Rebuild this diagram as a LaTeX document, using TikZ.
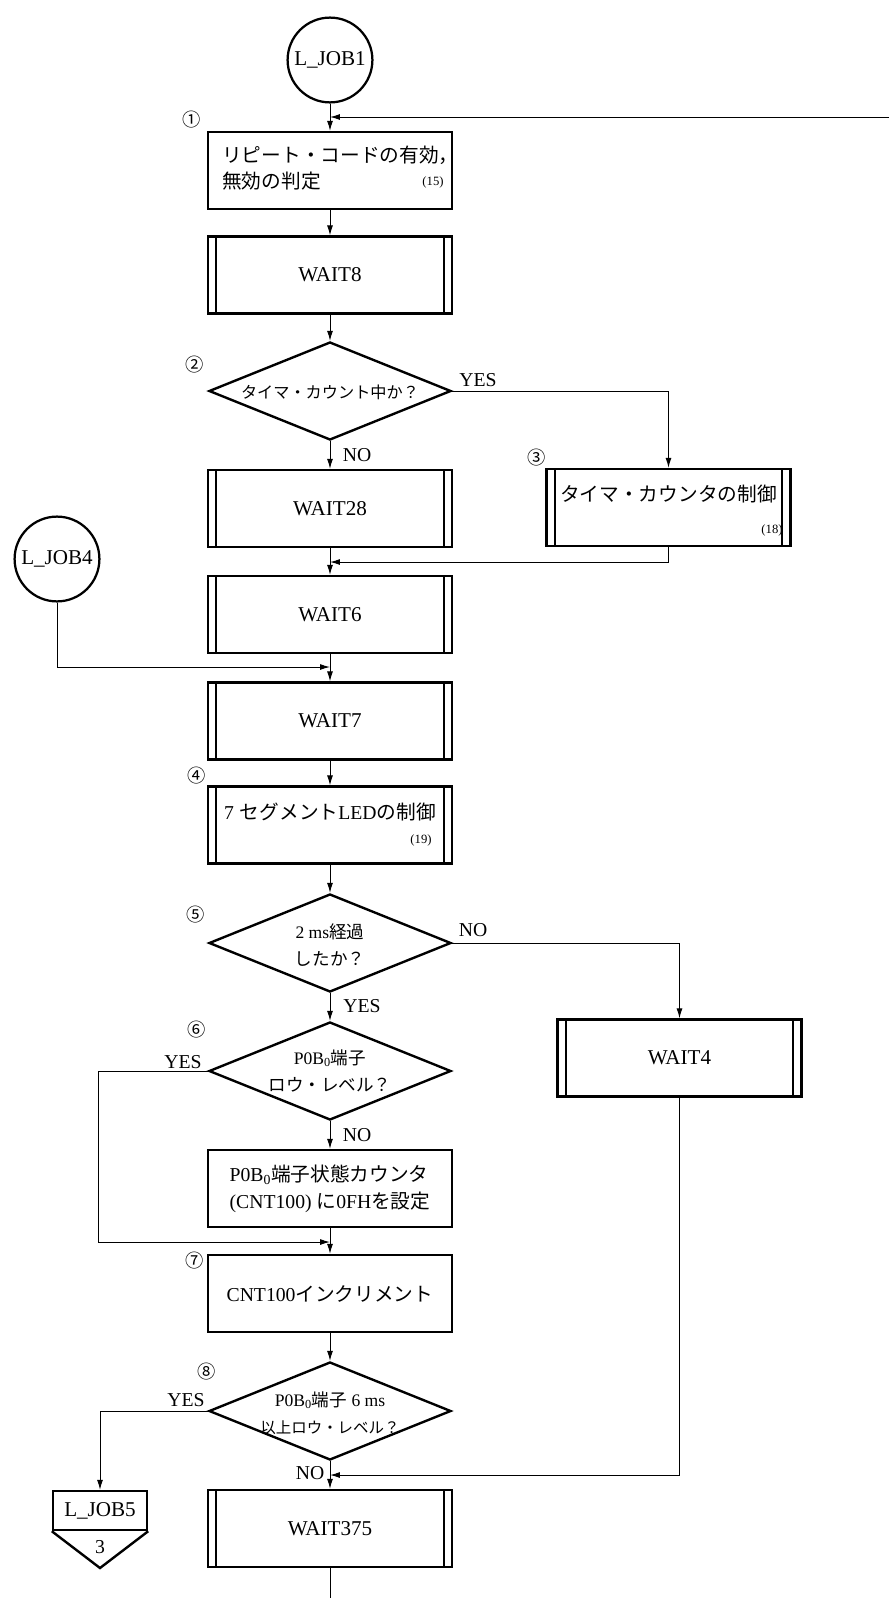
\documentclass[tikz,border=0pt]{standalone}
\usepackage{fontspec}
\setmainfont{Liberation Serif}
\newfontfamily\jpfont{Noto Sans CJK JP}
\newcommand\jtxt[1]{{\jpfont #1}}
\usetikzlibrary{arrows.meta,shapes.geometric}
\tikzset{
  box/.style={draw, line width=1.7pt, rectangle, minimum width=6.1cm, minimum height=1.925cm, inner sep=0pt, align=left, font=\fontsize{14pt}{19pt}\selectfont},
  pbox/.style={box, path picture={
     \draw[line width=1.5pt] ([xshift=0.21cm]path picture bounding box.north west) -- ([xshift=0.21cm]path picture bounding box.south west);
     \draw[line width=1.5pt] ([xshift=-0.21cm]path picture bounding box.north east) -- ([xshift=-0.21cm]path picture bounding box.south east);}},
  wtxt/.style={font=\fontsize{15pt}{18pt}\selectfont},
  jtext/.style={inner sep=0pt, font=\jpfont\fontsize{14pt}{17pt}\selectfont},
  mtext/.style={inner sep=0pt, font=\fontsize{14pt}{17pt}\selectfont},
  circ/.style={draw, circle, line width=1.6pt, minimum size=2.12cm, inner sep=0pt, font=\fontsize{15pt}{18pt}\selectfont},
  dia/.style={draw, diamond, line width=1.7pt, minimum width=6.05cm, minimum height=2.45cm, inner sep=0pt},
  dtxt/.style={inner sep=0pt, align=center, font=\fontsize{12.5pt}{19.5pt}\selectfont},
  lbl/.style={inner sep=0pt, font=\fontsize{14pt}{16pt}\selectfont},
  num/.style={inner sep=0pt, font=\jpfont\fontsize{13pt}{15pt}\selectfont},
  small/.style={inner sep=0pt, font=\fontsize{9pt}{10pt}\selectfont},
  arr/.style={line width=0.7pt, -{Latex[length=7pt,width=4.2pt]}},
  ln/.style={line width=0.7pt}
}
\begin{document}
\begin{tikzpicture}[x=0.025cm,y=-0.025cm]
\useasboundingbox[fill=white] (0,0) rectangle (889,1598);

% top
\node[circ] (job1) at (330,60) {L\_JOB1};
\coordinate (fbR) at (889,117);
\coordinate (fbJ) at (330,117);
\node[num] (n1) at (192,120) {①};
\node[box] (b1) at (330,170.5) {};
\node[jtext, anchor=west] (b1t1) at (222,155) {リピート・コードの有効，};
\node[jtext, anchor=west] (b1t2) at (222,181) {無効の判定};
\node[small] (b1n) at (433,182) {(15)};

\node[pbox, wtxt] (w8) at (330,275) {WAIT8};

\node[dia] (d2) at (330,391) {};
\node[dtxt, font=\fontsize{11.5pt}{19pt}\selectfont] (d2t) at (330,392) {\jtxt{タイマ・カウント中か？}};
\node[num] (n2) at (195,365) {②};
\node[lbl] (y2) at (478,380) {YES};
\node[lbl] (no2) at (357,455) {NO};

\node[pbox, wtxt] (w28) at (330,508.5) {WAIT28};
\node[pbox] (b3) at (668.5,507.5) {};
\node[jtext] (b3t) at (668.5,494) {タイマ・カウンタの制御};
\node[small] (b3n) at (772,530) {(18)};
\node[num] (n3) at (537,458) {③};
\coordinate (m3) at (330,562);

\node[pbox, wtxt] (w6) at (330,614.5) {WAIT6};
\node[circ] (job4) at (57,559) {L\_JOB4};
\coordinate (m4) at (330,667);

\node[pbox, wtxt] (w7) at (330,721) {WAIT7};
\node[pbox] (b4) at (330,825) {};
\node[mtext] (b4t) at (330,812) {7\hspace{0.3em}\jtxt{セグメント}LED\jtxt{の制御}};
\node[small] (b4n) at (421,840) {(19)};
\node[num] (n4) at (197,776) {④};

\node[dia] (d5) at (330,943) {};
\node[dtxt] (d5t) at (330,945) {2 ms\jtxt{経過}\\\jtxt{したか？}};
\node[num] (n5) at (196,915) {⑤};
\node[lbl] (no5) at (473,930) {NO};
\node[lbl] (y5) at (362,1006) {YES};

\node[pbox, wtxt] (w4) at (679.5,1058) {WAIT4};

\node[dia] (d6) at (330,1071) {};
\node[dtxt] (d6t) at (330,1071) {P0B\textsubscript{0}\jtxt{端子}\\\jtxt{ロウ・レベル？}};
\node[num] (n6) at (197,1030) {⑥};
\node[lbl] (y6) at (183,1062) {YES};
\node[lbl] (no6) at (357,1135) {NO};
\coordinate (c6) at (98,1071);

\node[box] (b6) at (330,1188.5) {P0B\textsubscript{0}\jtxt{端子状態カウンタ}\\(CNT100)\ \jtxt{に}0FH\jtxt{を設定}};
\coordinate (m7) at (330,1242);
\node[box] (b7) at (330,1293.5) {CNT100\jtxt{インクリメント}};
\node[num] (n7) at (195,1261) {⑦};

\node[dia] (d8) at (330,1411) {};
\node[dtxt] (d8t) at (330,1413) {P0B\textsubscript{0}\jtxt{端子} 6 ms\\{\fontsize{11pt}{13pt}\selectfont\jtxt{以上ロウ・レベル？}}};
\node[num] (n8) at (207,1372) {⑧};
\node[lbl] (y8) at (186,1400) {YES};
\node[lbl] (no8) at (310,1473) {NO};

\node[box, minimum width=2.35cm, minimum height=0.975cm, font=\fontsize{15pt}{18pt}\selectfont] (job5) at (100,1510.5) {L\_JOB5};
\coordinate (j5tip) at (100,1568);
\node[lbl] (j5n) at (100,1547) {3};

\coordinate (m8) at (330,1475);
\node[pbox, wtxt] (w375) at (330,1528.5) {WAIT375};
\coordinate (endc) at (330,1598);

% connectors
\draw[arr] (job1) -- (b1);
\draw[arr] (fbR) -- (fbJ);
\draw[arr] (b1) -- (w8);
\draw[arr] (w8) -- (d2);
\draw[arr] (d2) -- (w28);
\draw[arr] (d2.east) -| (b3.north);
\draw[arr] (b3.south) |- (m3);
\draw[arr] (w28) -- (w6);
\draw[arr] (job4.south) |- (m4);
\draw[arr] (w6) -- (w7);
\draw[arr] (w7) -- (b4);
\draw[arr] (b4) -- (d5);
\draw[arr] (d5.east) -| (w4.north);
\draw[arr] (d5) -- (d6);
\draw[arr] (d6.west) -- (c6) |- (m7);
\draw[arr] (d6) -- (b6);
\draw[arr] (b6) -- (b7);
\draw[arr] (b7) -- (d8);
\draw[arr] (d8.west) -| (job5.north);
\draw[arr] (d8) -- (w375);
\draw[arr] (w4.south) |- (m8);
\draw[ln] (w375) -- (endc);
\draw[line width=1.7pt, line join=miter] (job5.south west) -- (j5tip) -- (job5.south east);
\end{tikzpicture}
\end{document}
